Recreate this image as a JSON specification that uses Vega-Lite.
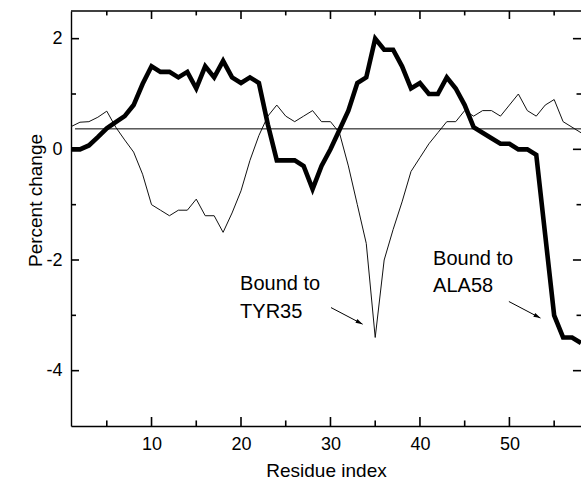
{
  "$schema": "https://vega.github.io/schema/vega-lite/v6.json",
  "autosize": {"type": "none"},
  "width": 510,
  "height": 415,
  "padding": {"left": 71, "top": 11, "right": 0, "bottom": 55},
  "background": "white",
  "config": {
    "view": {"stroke": null},
    "axis": {
      "grid": false,
      "domainColor": "black",
      "domainWidth": 1.4,
      "labelColor": "black",
      "titleColor": "black",
      "labelFont": "Liberation Sans",
      "titleFont": "Liberation Sans",
      "labelFontSize": 18,
      "titleFontSize": 19,
      "titleFontWeight": "normal"
    }
  },
  "datasets": {
    "series": [
      {"residue": 1, "thick": 0.0, "thin": 0.41},
      {"residue": 2, "thick": 0.0, "thin": 0.49},
      {"residue": 3, "thick": 0.07, "thin": 0.5},
      {"residue": 4, "thick": 0.22, "thin": 0.58},
      {"residue": 5, "thick": 0.38, "thin": 0.69},
      {"residue": 6, "thick": 0.49, "thin": 0.4},
      {"residue": 7, "thick": 0.6, "thin": 0.17},
      {"residue": 8, "thick": 0.8, "thin": -0.05},
      {"residue": 9, "thick": 1.18, "thin": -0.45},
      {"residue": 10, "thick": 1.5, "thin": -1.0},
      {"residue": 11, "thick": 1.4, "thin": -1.1},
      {"residue": 12, "thick": 1.4, "thin": -1.2},
      {"residue": 13, "thick": 1.3, "thin": -1.1},
      {"residue": 14, "thick": 1.4, "thin": -1.1},
      {"residue": 15, "thick": 1.1, "thin": -0.9},
      {"residue": 16, "thick": 1.5, "thin": -1.2},
      {"residue": 17, "thick": 1.3, "thin": -1.2},
      {"residue": 18, "thick": 1.6, "thin": -1.5},
      {"residue": 19, "thick": 1.3, "thin": -1.15},
      {"residue": 20, "thick": 1.2, "thin": -0.75},
      {"residue": 21, "thick": 1.3, "thin": -0.2},
      {"residue": 22, "thick": 1.2, "thin": 0.25},
      {"residue": 23, "thick": 0.45, "thin": 0.6},
      {"residue": 24, "thick": -0.2, "thin": 0.8},
      {"residue": 25, "thick": -0.2, "thin": 0.6},
      {"residue": 26, "thick": -0.2, "thin": 0.5},
      {"residue": 27, "thick": -0.3, "thin": 0.6},
      {"residue": 28, "thick": -0.72, "thin": 0.7},
      {"residue": 29, "thick": -0.3, "thin": 0.5},
      {"residue": 30, "thick": 0.0, "thin": 0.5},
      {"residue": 31, "thick": 0.35, "thin": 0.3},
      {"residue": 32, "thick": 0.7, "thin": -0.3},
      {"residue": 33, "thick": 1.2, "thin": -1.0},
      {"residue": 34, "thick": 1.3, "thin": -1.7},
      {"residue": 35, "thick": 2.0, "thin": -3.4},
      {"residue": 36, "thick": 1.8, "thin": -2.0},
      {"residue": 37, "thick": 1.8, "thin": -1.45},
      {"residue": 38, "thick": 1.5, "thin": -0.95},
      {"residue": 39, "thick": 1.1, "thin": -0.4},
      {"residue": 40, "thick": 1.2, "thin": -0.15},
      {"residue": 41, "thick": 1.0, "thin": 0.1},
      {"residue": 42, "thick": 1.0, "thin": 0.3},
      {"residue": 43, "thick": 1.3, "thin": 0.5},
      {"residue": 44, "thick": 1.1, "thin": 0.5},
      {"residue": 45, "thick": 0.8, "thin": 0.7},
      {"residue": 46, "thick": 0.4, "thin": 0.6},
      {"residue": 47, "thick": 0.3, "thin": 0.7},
      {"residue": 48, "thick": 0.2, "thin": 0.7},
      {"residue": 49, "thick": 0.1, "thin": 0.6},
      {"residue": 50, "thick": 0.1, "thin": 0.8},
      {"residue": 51, "thick": 0.0, "thin": 1.0},
      {"residue": 52, "thick": 0.0, "thin": 0.7},
      {"residue": 53, "thick": -0.1, "thin": 0.6},
      {"residue": 54, "thick": -1.55, "thin": 0.8},
      {"residue": 55, "thick": -3.0, "thin": 0.9},
      {"residue": 56, "thick": -3.4, "thin": 0.5},
      {"residue": 57, "thick": -3.4, "thin": 0.4},
      {"residue": 58, "thick": -3.5, "thin": 0.3}
    ],
    "refline": [{"x": 1.45, "x2": 58, "y": 0.37}],
    "frame": [{"y": 2.5}],
    "notes": [
      {"x": 19.9, "y": -2.54, "text": "Bound to"},
      {"x": 19.9, "y": -3.04, "text": "TYR35"},
      {"x": 41.47, "y": -2.09, "text": "Bound to"},
      {"x": 41.47, "y": -2.58, "text": "ALA58"}
    ],
    "arrows": [
      {"x": 30.06, "y": -2.86, "x2": 33.59, "y2": -3.16},
      {"x": 49.94, "y": -2.75, "x2": 53.47, "y2": -3.05}
    ],
    "xticks": [
      {"v": 5, "major": false}, {"v": 10, "major": true}, {"v": 15, "major": false},
      {"v": 20, "major": true}, {"v": 25, "major": false}, {"v": 30, "major": true},
      {"v": 35, "major": false}, {"v": 40, "major": true}, {"v": 45, "major": false},
      {"v": 50, "major": true}, {"v": 55, "major": false}
    ],
    "yticks": [
      {"v": -4, "major": true}, {"v": -3, "major": false}, {"v": -2, "major": true},
      {"v": -1, "major": false}, {"v": 0, "major": true}, {"v": 1, "major": false},
      {"v": 2, "major": true}
    ]
  },
  "layer": [
    {
      "data": {"name": "series"},
      "mark": {"type": "line", "color": "#111111", "strokeWidth": 1},
      "encoding": {
        "x": {
          "field": "residue", "type": "quantitative",
          "scale": {"domain": [1, 58], "nice": false, "zero": false},
          "axis": {
            "orient": "bottom",
            "title": "Residue index",
            "values": [10, 20, 30, 40, 50],
            "ticks": false,
            "labelPadding": 9,
            "titlePadding": 8
          }
        },
        "y": {
          "field": "thin", "type": "quantitative",
          "scale": {"domain": [-5, 2.5], "nice": false, "zero": false},
          "axis": {
            "orient": "left",
            "title": "Percent change",
            "values": [-4, -2, 0, 2],
            "labelExpr": "'' + datum.value",
            "ticks": false,
            "labelPadding": 9,
            "titleAngle": 270,
            "titleBaseline": "alphabetic",
            "titleX": -30,
            "titleY": 189
          }
        }
      }
    },
    {
      "data": {"name": "series"},
      "mark": {"type": "line", "color": "black", "strokeWidth": 4.6},
      "encoding": {
        "x": {"field": "residue", "type": "quantitative"},
        "y": {"field": "thick", "type": "quantitative"}
      }
    },
    {
      "data": {"name": "refline"},
      "mark": {"type": "rule", "color": "black", "strokeWidth": 1},
      "encoding": {
        "x": {"field": "x", "type": "quantitative"},
        "x2": {"field": "x2"},
        "y": {"field": "y", "type": "quantitative"}
      }
    },
    {
      "data": {"name": "frame"},
      "mark": {"type": "rule", "color": "black", "strokeWidth": 1.6},
      "encoding": {
        "y": {"field": "y", "type": "quantitative"}
      }
    },
    {
      "data": {"name": "xticks"},
      "transform": [{"filter": "datum.major"}],
      "mark": {"type": "rule", "color": "black", "strokeWidth": 1.6},
      "encoding": {
        "x": {"field": "v", "type": "quantitative"},
        "y": {"datum": -5, "type": "quantitative"},
        "y2": {"datum": -4.837}
      }
    },
    {
      "data": {"name": "xticks"},
      "transform": [{"filter": "!datum.major"}],
      "mark": {"type": "rule", "color": "black", "strokeWidth": 1.6},
      "encoding": {
        "x": {"field": "v", "type": "quantitative"},
        "y": {"datum": -5, "type": "quantitative"},
        "y2": {"datum": -4.9}
      }
    },
    {
      "data": {"name": "xticks"},
      "transform": [{"filter": "datum.major"}],
      "mark": {"type": "rule", "color": "black", "strokeWidth": 1.6},
      "encoding": {
        "x": {"field": "v", "type": "quantitative"},
        "y": {"datum": 2.5, "type": "quantitative"},
        "y2": {"datum": 2.355}
      }
    },
    {
      "data": {"name": "xticks"},
      "transform": [{"filter": "!datum.major"}],
      "mark": {"type": "rule", "color": "black", "strokeWidth": 1.6},
      "encoding": {
        "x": {"field": "v", "type": "quantitative"},
        "y": {"datum": 2.5, "type": "quantitative"},
        "y2": {"datum": 2.42}
      }
    },
    {
      "data": {"name": "yticks"},
      "transform": [{"filter": "datum.major"}],
      "mark": {"type": "rule", "color": "black", "strokeWidth": 1.6},
      "encoding": {
        "y": {"field": "v", "type": "quantitative"},
        "x": {"datum": 1, "type": "quantitative"},
        "x2": {"datum": 1.894}
      }
    },
    {
      "data": {"name": "yticks"},
      "transform": [{"filter": "!datum.major"}],
      "mark": {"type": "rule", "color": "black", "strokeWidth": 1.6},
      "encoding": {
        "y": {"field": "v", "type": "quantitative"},
        "x": {"datum": 1, "type": "quantitative"},
        "x2": {"datum": 1.56}
      }
    },
    {
      "data": {"name": "yticks"},
      "transform": [{"filter": "datum.major"}],
      "mark": {"type": "rule", "color": "black", "strokeWidth": 1.6},
      "encoding": {
        "y": {"field": "v", "type": "quantitative"},
        "x": {"datum": 57.1, "type": "quantitative"},
        "x2": {"datum": 58}
      }
    },
    {
      "data": {"name": "yticks"},
      "transform": [{"filter": "!datum.major"}],
      "mark": {"type": "rule", "color": "black", "strokeWidth": 1.6},
      "encoding": {
        "y": {"field": "v", "type": "quantitative"},
        "x": {"datum": 57.5, "type": "quantitative"},
        "x2": {"datum": 58}
      }
    },
    {
      "data": {"name": "arrows"},
      "mark": {"type": "rule", "color": "black", "strokeWidth": 1},
      "encoding": {
        "x": {"field": "x", "type": "quantitative"},
        "x2": {"field": "x2"},
        "y": {"field": "y", "type": "quantitative"},
        "y2": {"field": "y2"}
      }
    },
    {
      "data": {"name": "arrows"},
      "mark": {"type": "point", "shape": "M0,0L-2,-0.6L-2,0.6Z", "filled": true, "color": "black", "size": 49, "opacity": 1, "angle": 28},
      "encoding": {
        "x": {"field": "x2", "type": "quantitative"},
        "y": {"field": "y2", "type": "quantitative"}
      }
    },
    {
      "data": {"name": "notes"},
      "mark": {"type": "text", "align": "left", "baseline": "alphabetic", "font": "Liberation Sans", "fontSize": 20, "color": "black"},
      "encoding": {
        "x": {"field": "x", "type": "quantitative"},
        "y": {"field": "y", "type": "quantitative"},
        "text": {"field": "text"}
      }
    }
  ]
}
